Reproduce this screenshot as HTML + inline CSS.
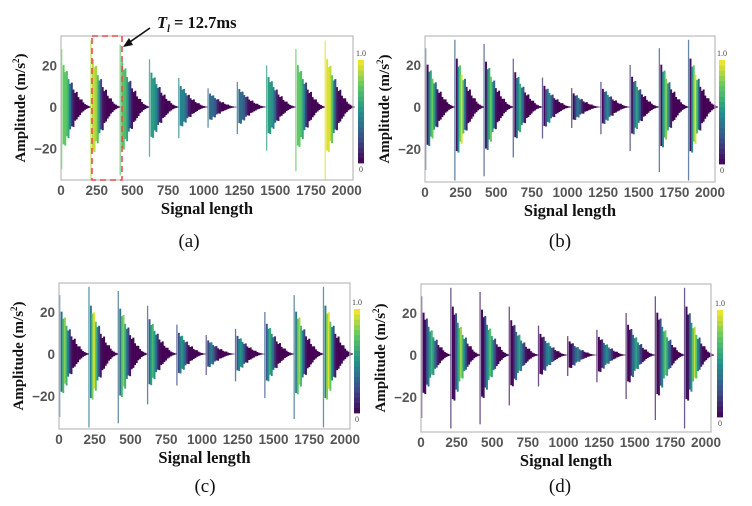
<!DOCTYPE html>
<html><head><meta charset="utf-8"><style>
html,body{margin:0;padding:0;background:#fff;}
svg{display:block;}
.tick{font-family:"Liberation Sans",sans-serif;font-weight:bold;font-size:13.5px;fill:#555;}
.ttl{font-family:"Liberation Serif",serif;font-weight:bold;font-size:16.5px;fill:#111;}
.ytl{font-family:"Liberation Serif",serif;font-weight:bold;font-size:15px;fill:#111;}
.cap{font-family:"Liberation Serif",serif;font-size:19px;fill:#111;}
.cb{font-family:"Liberation Serif",serif;font-size:8px;fill:#444;}
</style></head><body>
<svg id="fig" width="752" height="506" viewBox="0 0 752 506" xmlns="http://www.w3.org/2000/svg"></svg>
<script>
// ---- data ----
const burstStarts = [0, 205, 410, 615, 820, 1025, 1230, 1435, 1640, 1845];
const burstPosPeak = [28, 32, 30, 23, 14, 9, 12, 20, 28, 32];
const burstNegPeak = [-30, -35, -33, -24, -15, -10, -13, -21, -31, -35];
const stepPosEnvelope = [1, 0.72, 0.6, 0.62, 0.48, 0.4, 0.42, 0.3, 0.24, 0.26, 0.17, 0.13, 0.13, 0.08, 0.05, 0.035, 0.02, 0.01];
const stepNegEnvelope = [1, 0.6, 0.62, 0.47, 0.5, 0.36, 0.31, 0.32, 0.22, 0.2, 0.16, 0.13, 0.09, 0.07, 0.045, 0.03, 0.018, 0.01];
const stepWidth = 11.5;
const xTicks = [0, 250, 500, 750, 1000, 1250, 1500, 1750, 2000];
const yTicks = [20, 0, -20];
const burstWeightA = [0.75, 0.9, 0.72, 0.55, 0.45, 0.35, 0.35, 0.55, 0.75, 0.95];
const stepWeightA = [1, 1, 1, 0.95, 0.8, 0.55, 0.25, 0.1, 0.04, 0.02, 0, 0, 0, 0, 0, 0, 0, 0];
const burstWeightB = [0.8, 1, 0.8, 0.65, 0.5, 0.4, 0.5, 0.6, 0.85, 1];
const stepWeightB = [0.3, 0.05, 0.5, 0.75, 0.95, 0.7, 0.4, 0.1, 0.03, 0, 0, 0, 0, 0, 0, 0, 0, 0];
const burstWeightC = [0.85, 1, 0.85, 0.7, 0.55, 0.45, 0.55, 0.65, 0.9, 1];
const stepWeightC = [0.4, 0.45, 0.8, 0.95, 0.75, 0.5, 0.25, 0.08, 0.02, 0, 0, 0, 0, 0, 0, 0, 0, 0];
const burstWeightD = [0.7, 0.9, 0.75, 0.6, 0.5, 0.45, 0.5, 0.6, 0.8, 0.95];
const stepWeightD = [0.12, 0.03, 0.05, 0.3, 0.55, 0.75, 0.95, 0.75, 0.5, 0.3, 0.1, 0.03, 0, 0, 0, 0, 0, 0];

const panels = [
 {id:'a', x0:61, x2000:346.7, right:353, top:36, bottom:180, zero:107, k:2.075, cbx:358, cby0:60, cby1:163, cap:'(a)', capx:189, capy:247, bw:burstWeightA, sw:stepWeightA},
 {id:'b', x0:425, x2000:710, right:715, top:36, bottom:182, zero:107, k:2.1, cbx:719, cby0:60, cby1:164, cap:'(b)', capx:560, capy:247, bw:burstWeightB, sw:stepWeightB},
 {id:'c', x0:59, x2000:345, right:350, top:283, bottom:429, zero:354, k:2.1, cbx:354, cby0:309, cby1:413, cap:'(c)', capx:205, capy:492, bw:burstWeightC, sw:stepWeightC},
 {id:'d', x0:421, x2000:706, right:711, top:284, bottom:432, zero:355, k:2.1, cbx:717, cby0:310, cby1:417, cap:'(d)', capx:560, capy:492, bw:burstWeightD, sw:stepWeightD}
];

const NS='http://www.w3.org/2000/svg';
const fig=document.getElementById('fig');
function mk(tag, attrs, parent){const e=document.createElementNS(NS,tag);for(const k in attrs)e.setAttribute(k,attrs[k]);(parent||fig).appendChild(e);return e;}
const vstops=[[0,[68,1,84]],[0.25,[59,82,139]],[0.5,[33,145,140]],[0.75,[94,201,98]],[1,[253,231,37]]];
function viridis(t){t=Math.max(0,Math.min(1,t));for(let i=1;i<vstops.length;i++){if(t<=vstops[i][0]){const a=vstops[i-1],b=vstops[i];const f=(t-a[0])/(b[0]-a[0]);const c=a[1].map((v,j)=>Math.round(v+(b[1][j]-v)*f));return 'rgb('+c.join(',')+')';}}return 'rgb(253,231,37)';}

panels.forEach(p=>{
  const g=mk('g',{});
  
  
  const xs=v=>p.x0+(v/2000)*(p.x2000-p.x0);
  const ys=a=>p.zero-a*p.k;
  burstStarts.forEach((s,bi)=>{
    const bg=mk('g',{},g);
    
    
    stepPosEnvelope.forEach((env,si)=>{
      const v0=s+si*stepWidth, v1=v0+stepWidth;
      const pos=burstPosPeak[bi]*env, neg=burstNegPeak[bi]*stepNegEnvelope[si];
      const x=xs(v0), w=si===0?1.3:Math.max(0.8,xs(v1)-xs(v0)+0.3);
      const col=viridis(p.bw[bi]*p.sw[si]);
      const r=mk('rect',{x:x.toFixed(2),y:ys(pos).toFixed(2),width:w.toFixed(2),height:(ys(neg)-ys(pos)).toFixed(2),fill:col,opacity:si===0?0.75:1},bg);
      
      
    });
  });
  const fr=mk('rect',{x:p.x0,y:p.top,width:p.right-p.x0,height:p.bottom-p.top,fill:'none',stroke:'#bbb','stroke-width':1.2},g);
  
  
  xTicks.forEach(v=>{
    const t=mk('text',{x:xs(v),y:p.bottom+15,'text-anchor':'middle',class:'tick'},g);t.textContent=v;
    
    
  });
  yTicks.forEach(v=>{
    const t=mk('text',{x:p.x0-4,y:ys(v)+5,'text-anchor':'end',class:'tick'},g);t.textContent=(v<0?'\u2212'+(-v):v);
    
    
  });
  const yt=mk('text',{x:0,y:0,transform:'translate('+(p.x0-36)+','+((p.top+p.bottom)/2)+') rotate(-90)','text-anchor':'middle',class:'ytl'},g);
  yt.innerHTML='Amplitude (m/s<tspan dy="-6" font-size="9">2</tspan><tspan dy="6">)</tspan>';
  
  
  const xt=mk('text',{x:(p.x0+p.right)/2,y:p.bottom+34,'text-anchor':'middle',class:'ttl'},g);xt.textContent='Signal length';
  
  
  const cap=mk('text',{x:p.capx,y:p.capy,'text-anchor':'middle',class:'cap'},g);cap.textContent=p.cap;
  
  
  const cb=mk('g',{},g);
  
  
  const n=20;
  for(let i=0;i<n;i++){
    const h=(p.cby1-p.cby0)/n;
    mk('rect',{x:p.cbx,y:(p.cby1-(i+1)*h).toFixed(2),width:6,height:(h+0.4).toFixed(2),fill:viridis((i+0.5)/n)},cb);
  }
  const c1=mk('text',{x:p.cbx+3,y:p.cby0-4,'text-anchor':'middle',class:'cb'},cb);c1.textContent='1.0';
  const c0=mk('text',{x:p.cbx+3,y:p.cby1+9,'text-anchor':'middle',class:'cb'},cb);c0.textContent='0';
});
const box=mk('rect',{x:92,y:36,width:30,height:144,fill:'none',stroke:'#e8504a','stroke-width':1.6,'stroke-dasharray':'6,4'});


const ar=mk('line',{x1:150,y1:28,x2:127,y2:44,stroke:'#111','stroke-width':1.6});


const ah=mk('polygon',{points:'123,47 129,38 133,45',fill:'#111'});


const an=mk('text',{x:157,y:28,class:'ttl'});
an.innerHTML='<tspan font-style="italic">T</tspan><tspan font-style="italic" font-size="10" dy="4">l</tspan><tspan dy="-4"> = 12.7ms</tspan>';


</script>
</body></html>
